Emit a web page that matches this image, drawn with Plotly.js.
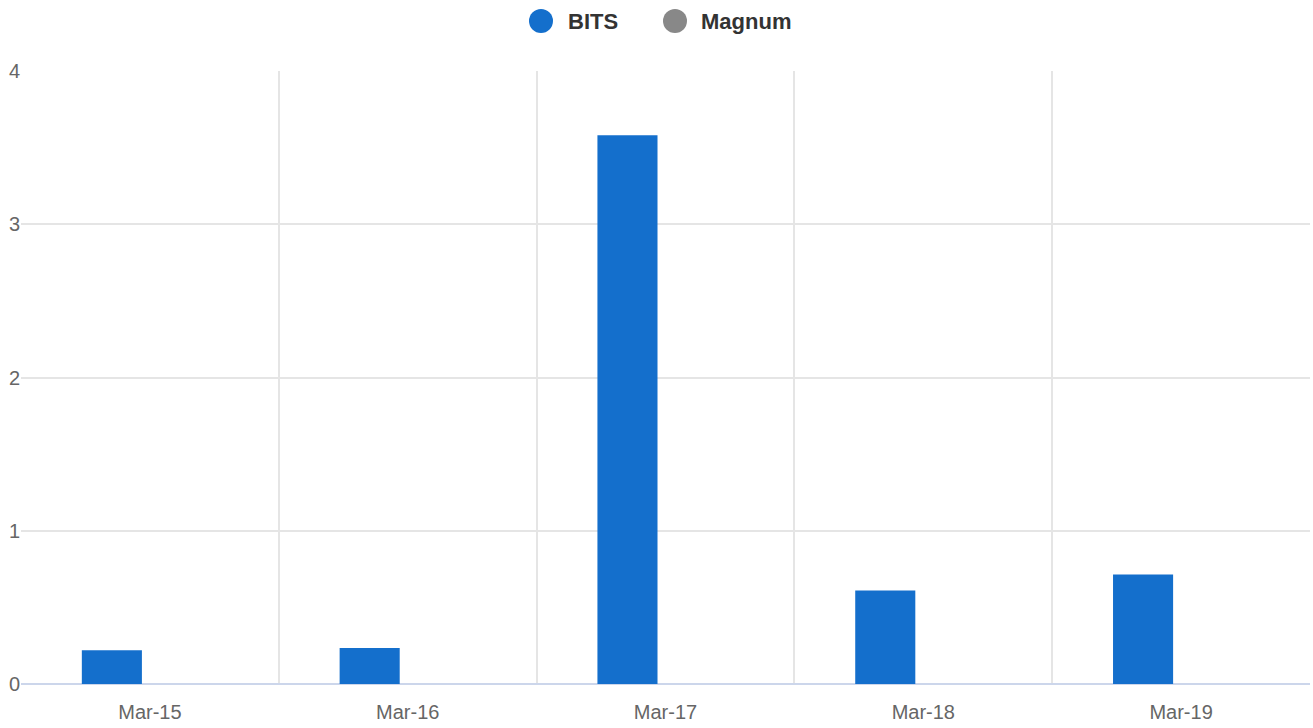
<!DOCTYPE html>
<html>
<head>
<meta charset="utf-8">
<script src="https://cdn.plot.ly/plotly-3.0.1.min.js"></script>
<style>html,body{margin:0;padding:0;background:#fff;}#chart{width:1313px;height:728px;}</style>
</head>
<body>
<div id="chart"></div>
<script>
var categories = ["Mar-15", "Mar-16", "Mar-17", "Mar-18", "Mar-19"];
var bitsValues = [0.22, 0.235, 3.58, 0.61, 0.715];
var magnumValues = [0, 0, 0, 0, 0];
var yTicks = [0, 1, 2, 3, 4];
var seriesNames = ["BITS", "Magnum"];

var bitsColor = "#146fcc";
var magnumColor = "#888888";
var seriesColors = [bitsColor, magnumColor];

var data = [
  {type: "bar", name: seriesNames[0], x: categories, y: bitsValues, marker: {color: bitsColor}, hoverinfo: "x+y"},
  {type: "bar", name: seriesNames[1], x: categories, y: magnumValues, marker: {color: magnumColor}, hoverinfo: "x+y"}
];

// Custom legend (big circle symbols) built with paper-anchored shapes + text annotations
var W = 1313, plotL = 21, plotR = 1310, plotT = 71, plotB = 684;
function px2paperX(px) { return (px - plotL) / (plotR - plotL); }
function py2paperY(py) { return (plotB - py) / (plotB - plotT); }
var legendCircleX = [541, 675];
var legendTextX = [566, 699];
var legendY = 21;
var shapes = [], annotations = [];
for (var i = 0; i < seriesNames.length; i++) {
  shapes.push({type: "circle", xref: "paper", yref: "paper", xsizemode: "pixel", ysizemode: "pixel",
    xanchor: px2paperX(legendCircleX[i]), yanchor: py2paperY(legendY),
    x0: -12, x1: 12, y0: -12, y1: 12, fillcolor: seriesColors[i], line: {width: 0}});
  annotations.push({xref: "paper", yref: "paper", x: px2paperX(legendTextX[i]), y: py2paperY(legendY),
    xanchor: "left", yanchor: "middle", showarrow: false, text: "<b>" + seriesNames[i] + "</b>",
    font: {size: 22, color: "#333"}});
}

var layout = {
  width: W, height: 728,
  margin: {l: plotL, r: W - plotR, t: plotT, b: 728 - plotB},
  paper_bgcolor: "#fff", plot_bgcolor: "#fff",
  font: {family: "Liberation Sans, Arial, sans-serif", size: 20, color: "#666"},
  barmode: "group",
  bargap: 0.41,
  bargroupgap: 0.21,
  showlegend: false,
  shapes: shapes,
  annotations: annotations,
  xaxis: {type: "category", tickson: "boundaries", showgrid: true, gridcolor: "#e5e5e5", gridwidth: 2,
          ticks: "", showline: false, zeroline: false, ticklabelstandoff: 14,
          tickfont: {size: 20, color: "#666"}, fixedrange: true},
  yaxis: {range: [0, 4], tickvals: yTicks, showgrid: true, gridcolor: "#e5e5e5", gridwidth: 2,
          zeroline: true, zerolinecolor: "#ccd6eb", zerolinewidth: 2, ticks: "", ticklabelstandoff: 0,
          tickfont: {size: 20, color: "#666"}, fixedrange: true}
};

Plotly.newPlot("chart", data, layout, {displayModeBar: false, staticPlot: true});
</script>
</body>
</html>
